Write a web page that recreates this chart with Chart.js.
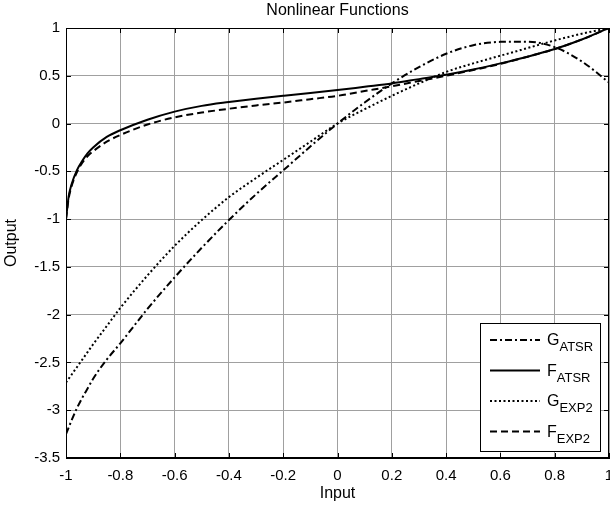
<!DOCTYPE html>
<html><head><meta charset="utf-8">
<script src="https://cdn.jsdelivr.net/npm/chart.js@4"></script>
<style>html,body{margin:0;padding:0;background:#fff}canvas{display:block}</style>
</head><body>
<canvas id="c" width="610" height="512"></canvas>
<script>
const inputs = [-1,-0.99,-0.98,-0.96,-0.94,-0.92,-0.9,-0.85,-0.8,-0.7,-0.6,-0.5,-0.4,-0.3,-0.2,-0.1,0,0.1,0.2,0.3,0.4,0.5,0.6,0.7,0.8,0.9,1];
const gAtsr = [-3.25,-3.18,-3.11,-2.98,-2.87,-2.77,-2.67,-2.47,-2.30,-1.94,-1.61,-1.30,-1.01,-0.74,-0.49,-0.24,0,0.22,0.42,0.59,0.73,0.82,0.855,0.857,0.80,0.65,0.43];
const fAtsr = [-1.0,-0.76,-0.64,-0.49,-0.39,-0.31,-0.25,-0.14,-0.07,0.04,0.125,0.185,0.225,0.26,0.29,0.32,0.35,0.385,0.42,0.465,0.51,0.565,0.63,0.70,0.78,0.88,1.0];
const gExp2 = [-2.71,-2.67,-2.63,-2.55,-2.47,-2.39,-2.31,-2.12,-1.93,-1.59,-1.28,-1.01,-0.77,-0.57,-0.38,-0.19,0,0.15,0.29,0.42,0.54,0.63,0.71,0.79,0.87,0.94,1.0];
const fExp2 = [-1.0,-0.78,-0.66,-0.51,-0.41,-0.34,-0.29,-0.19,-0.12,-0.01,0.065,0.115,0.155,0.19,0.22,0.255,0.29,0.34,0.39,0.445,0.50,0.56,0.625,0.70,0.78,0.88,1.0];
const xTicks = [-1,-0.8,-0.6,-0.4,-0.2,0,0.2,0.4,0.6,0.8,1];
const yTicks = [-3.5,-3,-2.5,-2,-1.5,-1,-0.5,0,0.5,1];
const seriesNames = [["G","ATSR"],["F","ATSR"],["G","EXP2"],["F","EXP2"]];

const FONT = '"Liberation Sans", Arial, sans-serif';
const dashDot = [7,3,2,3];
const dashes = [dashDot, [], [2,2.5], [7,4]];
const seriesData = [gAtsr, fAtsr, gExp2, fExp2];

const datasets = seriesData.map((arr, i) => ({
  label: seriesNames[i].join(''),
  data: inputs.map((x, k) => ({x: x, y: arr[k]})),
  borderColor: '#000',
  borderWidth: 2,
  borderDash: dashes[i],
  pointRadius: 0,
  fill: false,
  cubicInterpolationMode: 'monotone'
}));

const frame = {
  id: 'frame',
  afterDatasetsDraw(chart) {
    const {ctx, chartArea: a, scales: {x, y}} = chart;
    ctx.save();
    ctx.strokeStyle = '#000';
    ctx.lineWidth = 1;
    ctx.setLineDash([]);
    ctx.beginPath();
    xTicks.forEach(v => {
      const px = Math.round(x.getPixelForValue(v)) + 0.5;
      ctx.moveTo(px, a.bottom); ctx.lineTo(px, a.bottom - 5);
      ctx.moveTo(px, a.top); ctx.lineTo(px, a.top + 5);
    });
    yTicks.forEach(v => {
      const py = Math.round(y.getPixelForValue(v)) + 0.5;
      ctx.moveTo(a.left, py); ctx.lineTo(a.left + 5, py);
      ctx.moveTo(a.right, py); ctx.lineTo(a.right - 5, py);
    });
    ctx.stroke();
    ctx.strokeRect(Math.round(a.left) + 0.5, Math.round(a.top) + 0.5, Math.round(a.right - a.left) - 1, Math.round(a.bottom - a.top) - 1);

    // legend
    const bx = 480.5, by = 323.5, bw = 120, bh = 128;
    ctx.fillStyle = '#fff';
    ctx.fillRect(bx, by, bw, bh);
    ctx.strokeRect(bx, by, bw, bh);
    const rows = [340, 370.5, 401, 431.5];
    rows.forEach((cy, i) => {
      ctx.beginPath();
      ctx.setLineDash(dashes[i]);
      ctx.lineWidth = 2;
      ctx.moveTo(490, cy); ctx.lineTo(540, cy);
      ctx.stroke();
      ctx.setLineDash([]);
      ctx.fillStyle = '#000';
      ctx.textBaseline = 'alphabetic';
      ctx.textAlign = 'left';
      ctx.font = '16px ' + FONT;
      const main = seriesNames[i][0];
      ctx.fillText(main, 547, cy + 5);
      const w = ctx.measureText(main).width;
      ctx.font = '13px ' + FONT;
      ctx.fillText(seriesNames[i][1], 547 + w, cy + 11);
    });
    ctx.restore();
  }
};

new Chart(document.getElementById('c'), {
  type: 'line',
  data: {datasets},
  options: {
    responsive: false,
    animation: false,
    devicePixelRatio: 1,
    layout: {padding: {left: 0, right: 1, top: 0, bottom: 0}},
    plugins: {
      legend: {display: false},
      tooltip: {enabled: false},
      title: {display: true, fullSize: false, text: 'Nonlinear Functions', color: '#000',
              font: {family: FONT, size: 16, weight: 'normal', lineHeight: 1.2},
              padding: {top: 1, bottom: 7.8}}
    },
    scales: {
      x: {
        type: 'linear', min: -1, max: 1,
        afterBuildTicks: s => { s.ticks = xTicks.map(v => ({value: v})); },
        afterFit: s => { s.height = 54; s.paddingLeft = 0; s.paddingRight = 0; },
        ticks: {color: '#000', font: {family: FONT, size: 15}, padding: 9, maxRotation: 0, autoSkip: false,
                callback: v => String(v)},
        grid: {color: 'rgb(160,160,160)', drawTicks: false, lineWidth: 1},
        border: {display: true, color: '#000'},
        title: {display: true, text: 'Input', color: '#000', font: {family: FONT, size: 16, lineHeight: 1.2}, padding: {top: 0, bottom: 8.4}}
      },
      y: {
        type: 'linear', min: -3.5, max: 1,
        afterBuildTicks: s => { s.ticks = yTicks.map(v => ({value: v})); },
        afterFit: s => { s.width = 66; s.paddingTop = 0; s.paddingBottom = 0; },
        ticks: {color: '#000', font: {family: FONT, size: 15}, padding: 6, autoSkip: false,
                callback: v => String(v)},
        grid: {color: 'rgb(160,160,160)', drawTicks: false, lineWidth: 1},
        border: {display: true, color: '#000'},
        title: {display: true, text: 'Output', color: '#000', font: {family: FONT, size: 16, lineHeight: 1.2}, padding: {top: 2.4, bottom: 0}}
      }
    }
  },
  plugins: [frame]
});
</script>
</body></html>
